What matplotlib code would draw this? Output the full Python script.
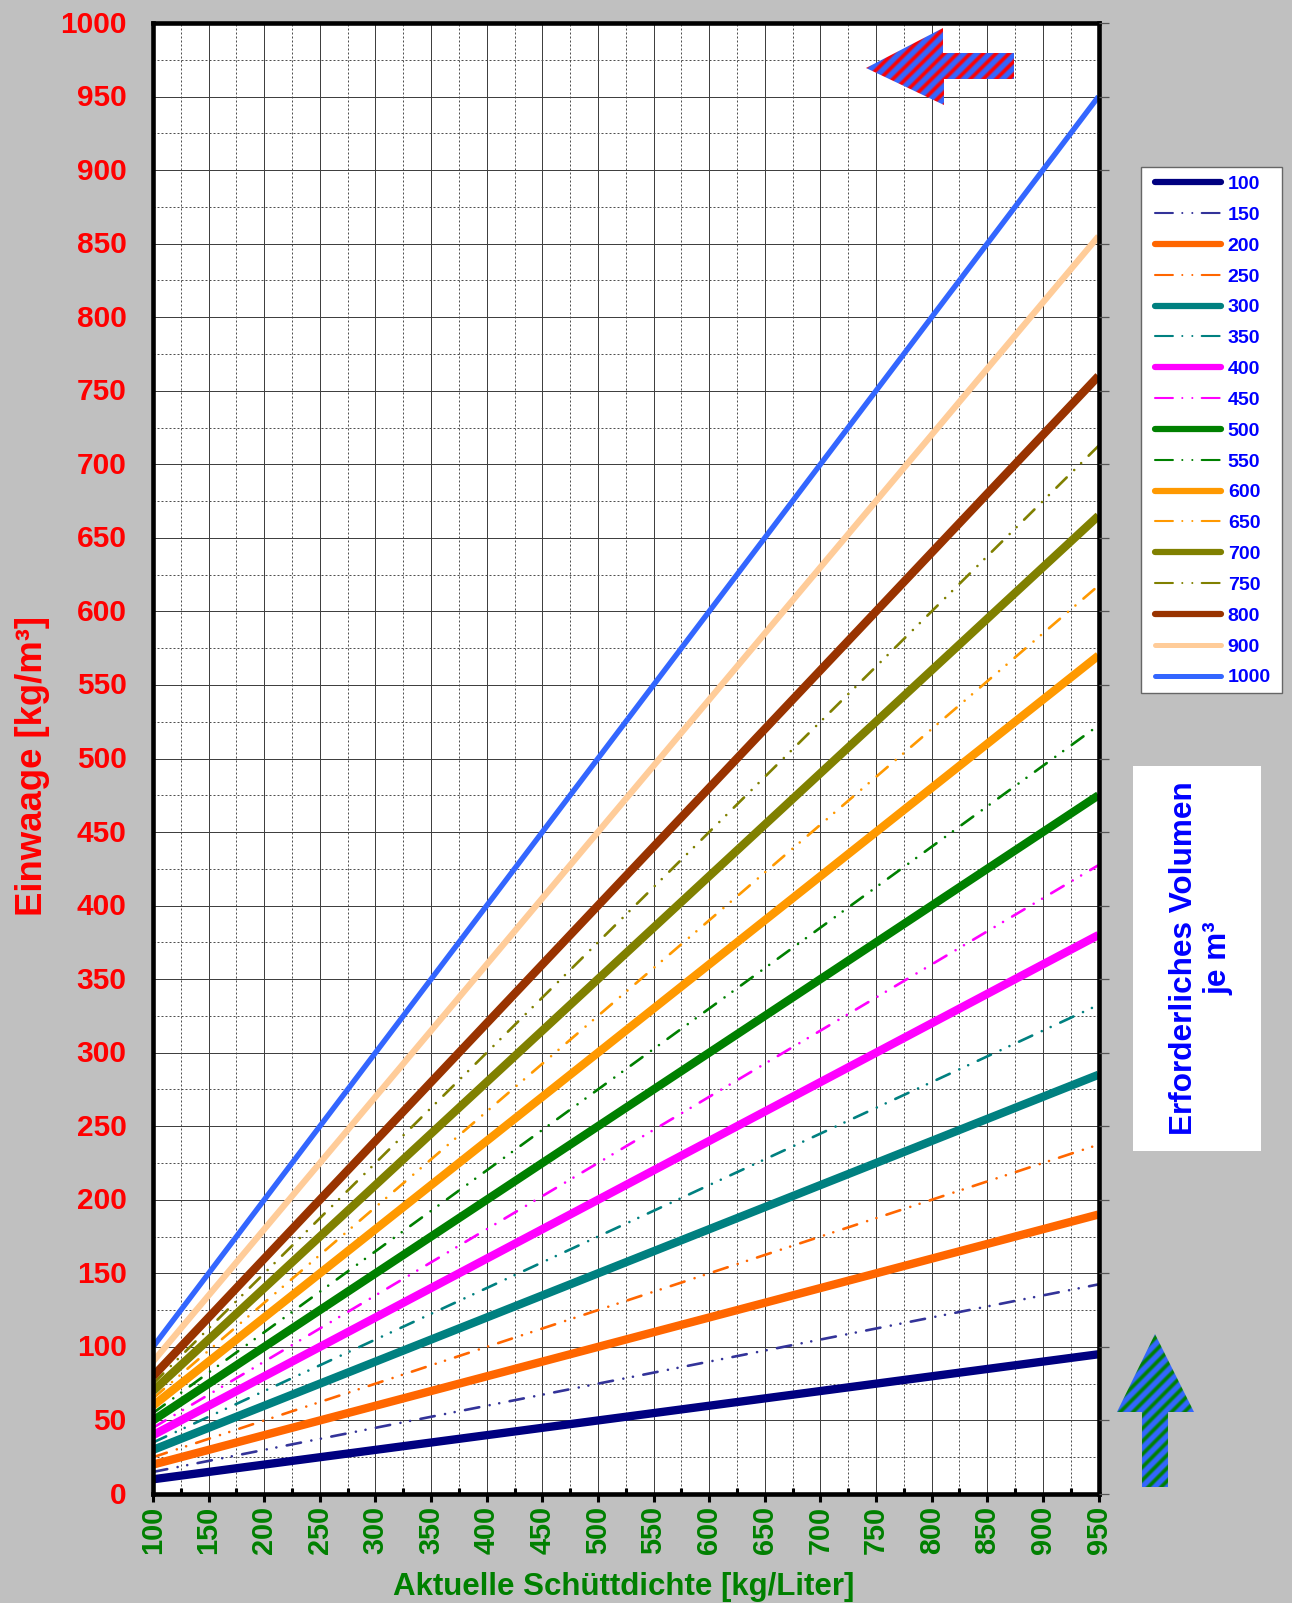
import numpy as np
import matplotlib
matplotlib.use('Agg')
import matplotlib.pyplot as plt
from matplotlib.patches import Polygon, Rectangle
from matplotlib.transforms import ScaledTranslation

plt.rcParams['font.family'] = ['Liberation Sans', 'DejaVu Sans']
plt.rcParams['font.weight'] = 'bold'
plt.rcParams['axes.labelweight'] = 'bold'

W, H = 1292, 1603

# schuettdichte at the two ends of the chart, all lines are straight
dichte = [100, 950]

v100 = [10, 95]
v150 = [15, 142.5]
v200 = [20, 190]
v250 = [25, 237.5]
v300 = [30, 285]
v350 = [35, 332.5]
v400 = [40, 380]
v450 = [45, 427.5]
v500 = [50, 475]
v550 = [55, 522.5]
v600 = [60, 570]
v650 = [65, 617.5]
v700 = [70, 665]
v750 = [75, 712.5]
v800 = [80, 760]
v900 = [90, 855]
v1000 = [100, 950]

xticks = list(range(100, 951, 50))
yticks = list(range(0, 1001, 50))

NAVY = '#000080'
INDIGO = '#333399'
ORANGE = '#FF6600'
TEAL = '#008080'
MAGENTA = '#FF00FF'
GREEN = '#008000'
AMBER = '#FF9900'
OLIVE = '#808000'
BROWN = '#993300'
PEACH = '#FFCC99'
BLUE = '#3366FF'

THICK = 6.0
THIN = 1.9

# werte, label, farbe, breite, gestrichelt
serien = [
    (v100, '100', NAVY, THICK, False),
    (v150, '150', INDIGO, THIN, True),
    (v200, '200', ORANGE, THICK, False),
    (v250, '250', ORANGE, THIN, True),
    (v300, '300', TEAL, THICK, False),
    (v350, '350', TEAL, THIN, True),
    (v400, '400', MAGENTA, THICK, False),
    (v450, '450', MAGENTA, THIN, True),
    (v500, '500', GREEN, THICK, False),
    (v550, '550', GREEN, THIN, True),
    (v600, '600', AMBER, THICK, False),
    (v650, '650', AMBER, THIN, True),
    (v700, '700', OLIVE, THICK, False),
    (v750, '750', OLIVE, THIN, True),
    (v800, '800', BROWN, THICK, False),
    (v900, '900', PEACH, 4.5, False),
    (v1000, '1000', BLUE, 3.9, False),
]

fig = plt.figure(figsize=(W / 100, H / 100), dpi=100, facecolor='#C0C0C0')

left, right, top, bottom = 153, 1098.5, 23, 1494
ax = fig.add_axes([left / W, 1 - bottom / H, (right - left) / W, (bottom - top) / H])
ax.set_facecolor('white')
ax.set_xlim(100, 950)
ax.set_ylim(0, 1000)

ax.set_xticks(xticks)
ax.set_yticks(yticks)
ax.set_xticks(list(range(125, 950, 50)), minor=True)
ax.set_yticks(list(range(25, 1000, 50)), minor=True)
ax.set_axisbelow(True)
ax.grid(which='major', color='#404040', lw=0.72)
ax.grid(which='minor', color='#505050', lw=0.72, ls=(0, (2, 2)))

handles = []
for werte, label, farbe, breite, gestrichelt in serien:
    if gestrichelt:
        l, = ax.plot(dichte, werte, color=farbe, lw=breite, label=label,
                     ls=(0, (5.5, 4, 0.01, 3.7, 0.01, 4)), dash_capstyle='round')
    else:
        l, = ax.plot(dichte, werte, color=farbe, lw=breite, label=label,
                     solid_capstyle='butt')
    handles.append(l)

for s in ax.spines.values():
    s.set_linewidth(3.3)
    s.set_color('black')

ax.tick_params(axis='x', which='major', direction='out', length=6, width=2.2, color='black',
               labelsize=20.8, labelcolor=GREEN, labelrotation=90, pad=2.5)
ax.tick_params(axis='x', which='minor', direction='in', length=4, width=2.2, color='black')
ax.tick_params(axis='y', which='major', length=0, labelsize=21.5, labelcolor='red', pad=19)
ax.tick_params(axis='y', which='minor', length=0)
for lab in ax.get_yticklabels():
    lab.set_transform(lab.get_transform() + ScaledTranslation(0, 1.5 / 100, fig.dpi_scale_trans))

ax.set_xlabel('Aktuelle Schüttdichte [kg/Liter]', fontsize=22.5, color=GREEN, va='center')
ax.xaxis.set_label_coords((624 - left) / (right - left), -(1587 - bottom) / (bottom - top))
ax.set_ylabel('Einwaage [kg/m³]', fontsize=26.3, color='red', va='center')
ax.yaxis.set_label_coords(-(153 - 33) / (right - left), (bottom - 766) / (bottom - top))

# graue striche rechts neben dem diagramm
ax_r = ax.twinx()
ax_r.set_ylim(0, 1000)
ax_r.set_yticks(yticks)
ax_r.set_yticklabels([])
ax_r.tick_params(axis='y', direction='out', length=7, width=0.9, color='#555555')
for s in ax_r.spines.values():
    s.set_visible(False)

# ebene in pixeln fuer legende, pfeile und textkasten
over = fig.add_axes([0, 0, 1, 1], facecolor='none')
over.axis('off')


def stripedArrow(punkte, farbe1, farbe2):
    pts = np.array(punkte, dtype=float)
    x0, y0 = pts.min(axis=0)
    x1, y1 = pts.max(axis=0)
    xx, yy = np.meshgrid(np.arange(x0, x1 + 1), np.arange(y0, y1 + 1))
    t = np.clip(0.75 + 0.9 * np.sin(2 * np.pi * (xx + yy) / 13.0), 0, 1)
    c1 = np.array(matplotlib.colors.to_rgb(farbe1))
    c2 = np.array(matplotlib.colors.to_rgb(farbe2))
    img = c1 * t[..., None] + c2 * (1 - t[..., None])
    im = over.imshow(img, extent=(x0, x1, y1, y0), aspect='auto', interpolation='bilinear')
    poly = Polygon(pts, closed=True, transform=over.transData, fc='none', ec='none')
    over.add_patch(poly)
    im.set_clip_path(poly)


stripedArrow([(866, 68), (943, 28), (943, 53), (1014, 53), (1014, 79), (944, 79), (944, 105)],
             BLUE, '#FF0000')
stripedArrow([(1155, 1334), (1194, 1412), (1168, 1412), (1168, 1487), (1142, 1487), (1142, 1412),
              (1117, 1412)], BLUE, GREEN)
over.set_xlim(0, W)
over.set_ylim(H, 0)

over.add_patch(Rectangle((1133, 766), 128, 385, fc='white', ec='none'))
over.text(1201.5, 958, 'Erforderliches Volumen\nje m³', rotation=90, color='#0000FF', fontsize=22.7,
          ha='center', va='center', linespacing=1.2, multialignment='center')

over.add_patch(Rectangle((1141, 167), 140.5, 526, fc='white', ec='#666666', lw=1))
leg = over.legend(handles=handles, loc='upper left', bbox_to_anchor=(1155 / W, 1 - 175.5 / H),
                  bbox_transform=fig.transFigure, fontsize=14, labelcolor='#0000FF',
                  frameon=False, handlelength=3.4, labelspacing=0.68, handletextpad=0.345,
                  borderaxespad=0, borderpad=0)
for h, s in zip(leg.get_lines(), serien):
    if s[4]:
        h.set_linewidth(1.5)
        h.set_linestyle((0, (8.6, 4.5, 0.01, 4.8, 0.01, 4.5)))
    else:
        h.set_solid_capstyle('round')
        h.set_linewidth(3.6 if s[2] in (PEACH, BLUE) else 4.5)

fig.savefig('out.png', dpi=100, facecolor=fig.get_facecolor())
